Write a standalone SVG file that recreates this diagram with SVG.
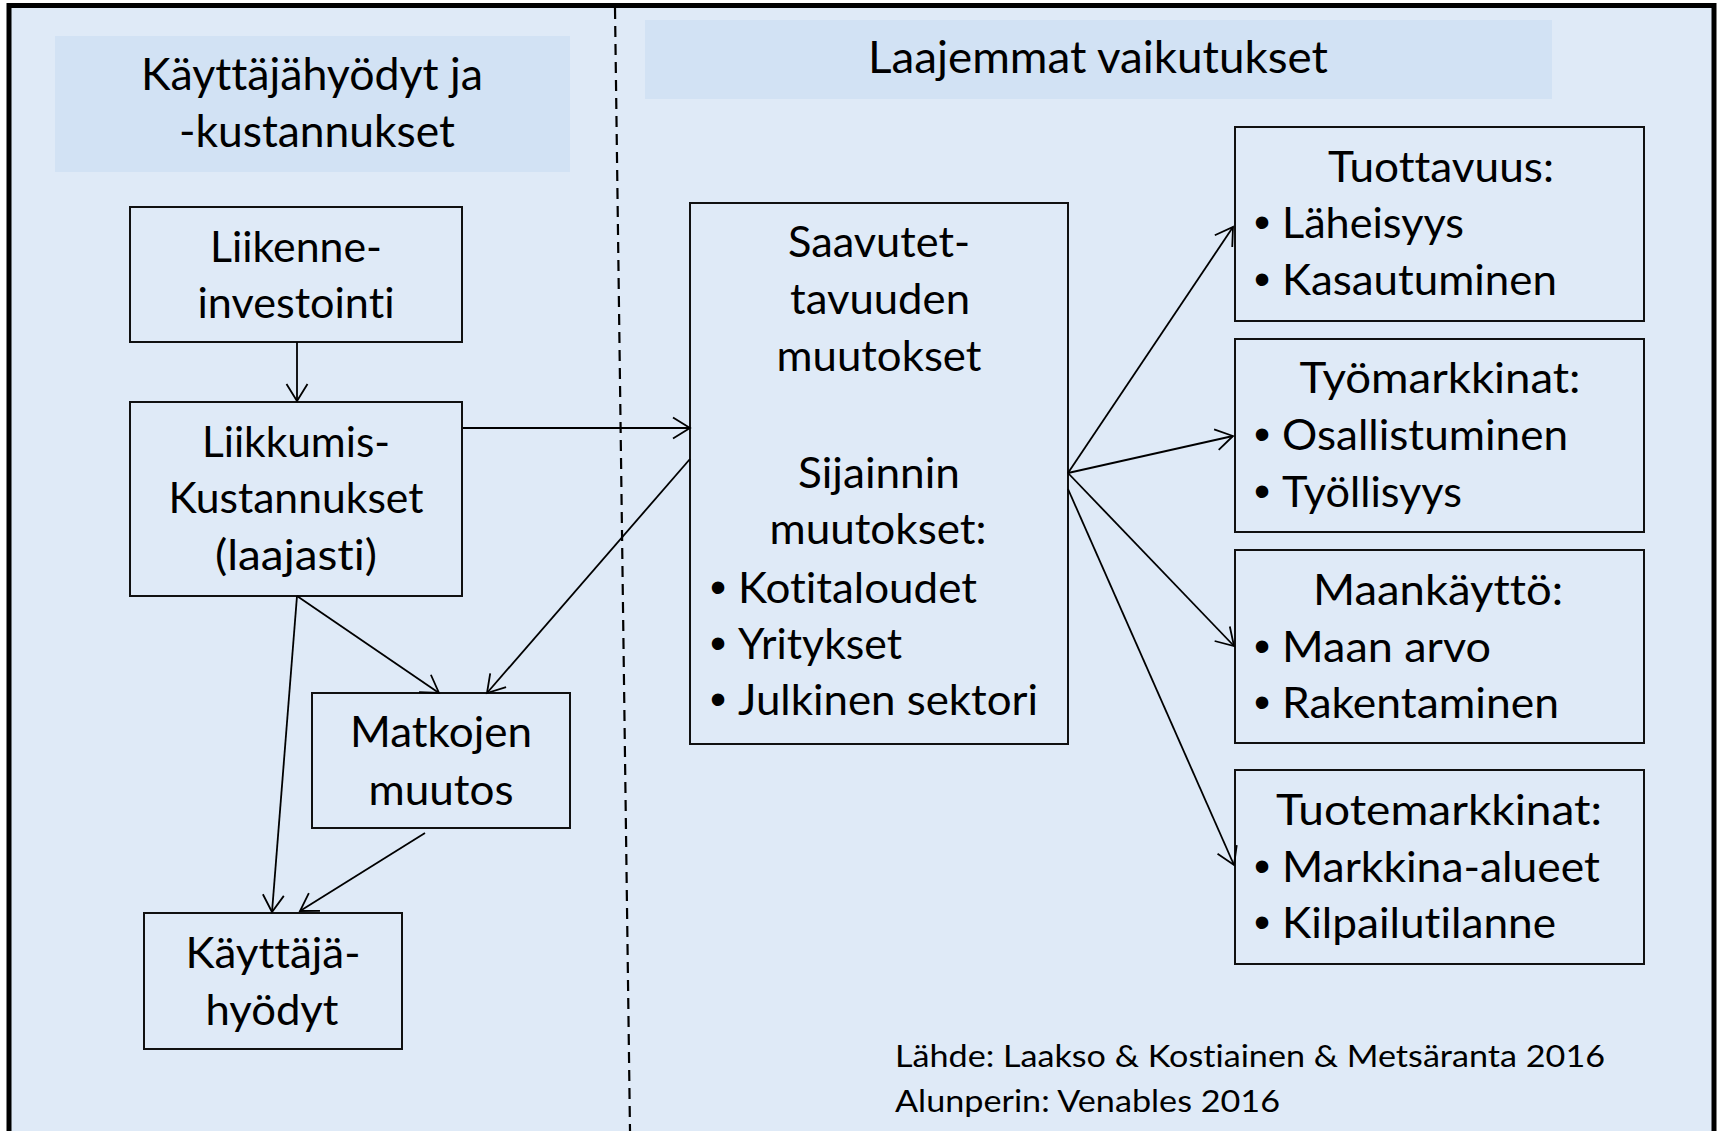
<svg xmlns="http://www.w3.org/2000/svg" width="1719" height="1131" viewBox="0 0 1719 1131">
<style>
text{font-family:Lato,"Liberation Sans","DejaVu Sans",sans-serif;fill:#000;font-variant-ligatures:none;font-weight:400}
.t{font-size:43px}
.h{font-size:44px}
.s{font-size:31px}
.b{font-family:"Liberation Sans",Arial,sans-serif;font-size:46px}
.c{text-anchor:middle}
.box{fill:none;stroke:#111;stroke-width:2}
.hdr{fill:#d2e2f4}
.ln{fill:none;stroke:#000;stroke-width:1.8;marker-end:url(#a)}
</style>
<defs>
<marker id="a" markerUnits="userSpaceOnUse" markerWidth="22" markerHeight="26" refX="19" refY="12" orient="auto">
<path d="M2,1.5 L19,12 L2,22.5" fill="none" stroke="#000" stroke-width="1.8"/>
</marker>
</defs>
<rect x="0" y="0" width="1719" height="1131" fill="#ffffff"/>
<rect x="9" y="5.5" width="1705" height="1200" fill="#dfeaf7" stroke="#000" stroke-width="5"/>
<g id="header-left">
<rect class="hdr" x="55" y="36" width="515" height="136"/>
<text class="h c" x="312" y="90" textLength="342" lengthAdjust="spacingAndGlyphs">Käyttäjähyödyt ja</text>
<text class="h c" x="317" y="147" textLength="276" lengthAdjust="spacingAndGlyphs">-kustannukset</text>
</g>
<g id="header-right">
<rect class="hdr" x="645" y="20" width="907" height="79"/>
<text class="h c" x="1098" y="73" textLength="460" lengthAdjust="spacingAndGlyphs">Laajemmat vaikutukset</text>
</g>
<line id="divider" x1="615" y1="8" x2="630" y2="1131" stroke="#000" stroke-width="2.2" stroke-dasharray="11 7"/>
<g id="liikenne">
<rect class="box" x="130" y="207" width="332" height="135"/>
<text class="t c" x="296" y="262" textLength="172" lengthAdjust="spacingAndGlyphs">Liikenne-</text>
<text class="t c" x="296" y="318" textLength="197" lengthAdjust="spacingAndGlyphs">investointi</text>
</g>
<g id="liikkumis">
<rect class="box" x="130" y="402" width="332" height="194"/>
<text class="t c" x="296" y="457" textLength="188" lengthAdjust="spacingAndGlyphs">Liikkumis-</text>
<text class="t c" x="296" y="513" textLength="255" lengthAdjust="spacingAndGlyphs">Kustannukset</text>
<text class="t c" x="296" y="570" textLength="162" lengthAdjust="spacingAndGlyphs">(laajasti)</text>
</g>
<g id="matkojen">
<rect class="box" x="312" y="693" width="258" height="135"/>
<text class="t c" x="441" y="747" textLength="182" lengthAdjust="spacingAndGlyphs">Matkojen</text>
<text class="t c" x="441" y="805" textLength="145" lengthAdjust="spacingAndGlyphs">muutos</text>
</g>
<g id="kayttaja">
<rect class="box" x="144" y="913" width="258" height="136"/>
<text class="t c" x="273" y="968" textLength="175" lengthAdjust="spacingAndGlyphs">Käyttäjä-</text>
<text class="t c" x="272" y="1025" textLength="133" lengthAdjust="spacingAndGlyphs">hyödyt</text>
</g>
<g id="saavutettavuus">
<rect class="box" x="690" y="203" width="378" height="541"/>
<text class="t c" x="879" y="257" textLength="182" lengthAdjust="spacingAndGlyphs">Saavutet-</text>
<text class="t c" x="880" y="314" textLength="180" lengthAdjust="spacingAndGlyphs">tavuuden</text>
<text class="t c" x="879" y="371" textLength="205" lengthAdjust="spacingAndGlyphs">muutokset</text>
<text class="t c" x="879" y="488" textLength="162" lengthAdjust="spacingAndGlyphs">Sijainnin</text>
<text class="t c" x="878" y="544" textLength="217" lengthAdjust="spacingAndGlyphs">muutokset:</text>
<text class="b c" x="718" y="603">•</text>
<text class="t" x="738" y="603" textLength="239" lengthAdjust="spacingAndGlyphs">Kotitaloudet</text>
<text class="b c" x="718" y="659">•</text>
<text class="t" x="738" y="659" textLength="164" lengthAdjust="spacingAndGlyphs">Yritykset</text>
<text class="b c" x="718" y="715">•</text>
<text class="t" x="738" y="715" textLength="300" lengthAdjust="spacingAndGlyphs">Julkinen sektori</text>
</g>
<g id="tuottavuus">
<rect class="box" x="1235" y="127" width="409" height="194"/>
<text class="t c" x="1441" y="182" textLength="226" lengthAdjust="spacingAndGlyphs">Tuottavuus:</text>
<text class="b c" x="1262" y="238">•</text>
<text class="t" x="1282" y="238" textLength="182" lengthAdjust="spacingAndGlyphs">Läheisyys</text>
<text class="b c" x="1262" y="295">•</text>
<text class="t" x="1282" y="295" textLength="275" lengthAdjust="spacingAndGlyphs">Kasautuminen</text>
</g>
<g id="tyomarkkinat">
<rect class="box" x="1235" y="339" width="409" height="193"/>
<text class="t c" x="1440" y="393" textLength="281" lengthAdjust="spacingAndGlyphs">Työmarkkinat:</text>
<text class="b c" x="1262" y="450">•</text>
<text class="t" x="1282" y="450" textLength="286" lengthAdjust="spacingAndGlyphs">Osallistuminen</text>
<text class="b c" x="1262" y="507">•</text>
<text class="t" x="1282" y="507" textLength="180" lengthAdjust="spacingAndGlyphs">Työllisyys</text>
</g>
<g id="maankaytto">
<rect class="box" x="1235" y="550" width="409" height="193"/>
<text class="t c" x="1438" y="605" textLength="250" lengthAdjust="spacingAndGlyphs">Maankäyttö:</text>
<text class="b c" x="1262" y="662">•</text>
<text class="t" x="1282" y="662" textLength="209" lengthAdjust="spacingAndGlyphs">Maan arvo</text>
<text class="b c" x="1262" y="718">•</text>
<text class="t" x="1282" y="718" textLength="277" lengthAdjust="spacingAndGlyphs">Rakentaminen</text>
</g>
<g id="tuotemarkkinat">
<rect class="box" x="1235" y="770" width="409" height="194"/>
<text class="t c" x="1439" y="825" textLength="326" lengthAdjust="spacingAndGlyphs">Tuotemarkkinat:</text>
<text class="b c" x="1262" y="882">•</text>
<text class="t" x="1282" y="882" textLength="318" lengthAdjust="spacingAndGlyphs">Markkina-alueet</text>
<text class="b c" x="1262" y="938">•</text>
<text class="t" x="1282" y="938" textLength="274" lengthAdjust="spacingAndGlyphs">Kilpailutilanne</text>
</g>
<g id="connectors">
<line class="ln" x1="297" y1="342" x2="297" y2="401"/>
<line class="ln" x1="463" y1="428" x2="690" y2="428"/>
<line class="ln" x1="690" y1="459" x2="487" y2="693"/>
<line class="ln" x1="297" y1="596" x2="439" y2="693"/>
<line class="ln" x1="297" y1="596" x2="272" y2="912"/>
<line class="ln" x1="425" y1="833" x2="300" y2="911"/>
<line class="ln" x1="1068" y1="473" x2="1233" y2="227"/>
<line class="ln" x1="1068" y1="473" x2="1233" y2="436"/>
<line class="ln" x1="1068" y1="473" x2="1234" y2="646"/>
<line class="ln" x1="1068" y1="489" x2="1234" y2="865"/>
</g>
<g id="source">
<text class="s" x="895" y="1067" textLength="710" lengthAdjust="spacingAndGlyphs">Lähde: Laakso &amp; Kostiainen &amp; Metsäranta 2016</text>
<text class="s" x="895" y="1112" textLength="385" lengthAdjust="spacingAndGlyphs">Alunperin: Venables 2016</text>
</g>
</svg>
